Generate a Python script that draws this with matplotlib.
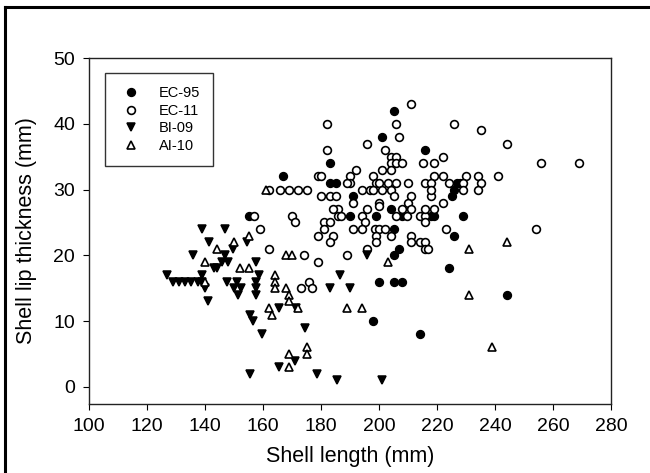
import matplotlib
matplotlib.use("Agg")
import matplotlib.pyplot as plt
from matplotlib.lines import Line2D

plt.rcParams['font.family'] = ['Liberation Sans', 'DejaVu Sans']

# EC-95 (filled circles)
ec95_x = [155, 167, 183, 183, 185, 205, 201, 216, 191, 190, 199, 204, 205, 207, 205, 208,
          218, 219, 226, 227, 228, 225, 229, 226, 224, 244, 214, 200, 205, 208, 198]
ec95_y = [26, 32, 34, 31, 31, 42, 38, 36, 29, 26, 26, 27, 24, 21, 20, 26,
          26, 26, 30, 31, 31, 29, 26, 23, 18, 14, 8, 16, 16, 16, 10]

# EC-11 (open circles)
ec11_x = [182, 182, 179, 180, 162, 166, 169, 172, 175, 180, 183, 185, 186, 186, 157, 170,
          171, 159, 181, 183, 179, 184, 181, 183, 162, 174, 179, 211, 206, 207, 196, 202,
          204, 206, 204, 206, 208, 204, 192, 201, 215, 219, 219, 190, 190, 198, 199, 200,
          203, 206, 210, 216, 218, 194, 197, 198, 201, 204, 205, 211, 210, 218, 218, 191,
          200, 200, 184, 187, 194, 196, 195, 206, 209.5, 208, 211, 214, 216, 216, 216, 191,
          194, 198.5, 200, 202, 199, 204, 199, 211, 211, 214, 216, 216, 196, 189, 226, 235,
          244, 222, 222, 230, 234, 241, 224, 229, 235, 229, 234, 222, 219, 223, 217, 256,
          269, 254, 189, 176, 177, 173]
ec11_y = [40, 36, 32, 32, 30, 30, 30, 30, 30, 29, 29, 29, 27, 26, 26, 26,
          25, 24, 25, 25, 23, 23, 24, 22, 21, 20, 19, 43, 40, 38, 37, 36,
          35, 35, 34, 34, 34, 33, 33, 33, 34, 34, 32, 32, 31, 32, 31, 31,
          31, 31, 31, 31, 31, 30, 30, 30, 30, 30, 29, 29, 28, 29, 30, 28,
          28, 27.5, 27, 26, 26, 27, 25, 26, 26, 27, 27, 26, 26, 25, 27, 24,
          24, 24, 24, 24, 23, 23, 22, 23, 22, 22, 22, 21, 21, 20, 40, 39,
          37, 35, 32, 32, 32, 32, 31, 31, 31, 30, 30, 28, 27, 24, 21, 34,
          34, 24, 31, 16, 15, 15]

# BI-09 (filled down triangles)
bi09_x = [127, 129, 131, 133, 135, 137.5, 139, 139, 140, 141, 139, 147, 141.5, 136, 149.5, 147,
          146, 148, 143, 144, 147.5, 151, 150, 152.5, 151.5, 154.5, 157.5, 158.5, 157.5, 157.5,
          157.5, 155.5, 156.5, 159.5, 155.5, 165.5, 171.5, 174.5, 165.5, 171, 178.5, 185.5, 201,
          186.5, 183, 190, 196]
bi09_y = [17, 16, 16, 16, 16, 16, 17, 16, 15, 13, 24, 24, 22, 20, 21, 20,
          19, 19, 18, 18, 16, 16, 15, 15, 14, 22, 19, 17, 16, 15,
          14, 11, 10, 8, 2, 12, 12, 9, 3, 4, 2, 1, 1,
          17, 15, 15, 20]

# AI-10 (open up triangles)
ai10_x = [140, 140, 144, 150, 155, 152, 155, 161, 164, 164, 164, 168, 169, 169, 162, 163,
          172, 189, 194, 168, 170, 169, 175, 175, 169, 203, 231, 244, 231, 239]
ai10_y = [19, 16, 21, 22, 23, 18, 18, 30, 17, 16, 15, 15, 14, 13, 12, 11,
          12, 12, 12, 20, 20, 5, 6, 5, 3, 19, 21, 22, 14, 6]

fig = plt.figure(figsize=(6.5, 4.73), dpi=100)
ax = fig.add_axes([89 / 650, 1 - 404 / 473, 522 / 650, 346 / 473])

ms = 5.6
ax.plot(ec95_x, ec95_y, 'o', ms=ms, mfc='black', mec='black', mew=1.1, label='EC-95')
ax.plot(ec11_x, ec11_y, 'o', ms=ms, mfc='white', mec='black', mew=1.2, label='EC-11')
ax.plot(bi09_x, bi09_y, 'v', ms=ms + 0.8, mfc='black', mec='black', mew=1.1, label='BI-09')
ax.plot(ai10_x, ai10_y, '^', ms=ms + 0.8, mfc='white', mec='black', mew=1.2, label='AI-10')

ax.set_xlim(100, 280)
ax.set_ylim(-2.6, 50)
ax.set_xticks(range(100, 281, 20))
ax.set_yticks(range(0, 51, 10))
ax.tick_params(direction='out', length=4, width=0.8, labelsize=14, pad=6,
               top=False, right=False)
for s in ax.spines.values():
    s.set_linewidth(1.0)
    s.set_color('#222222')

ax.set_xlabel('Shell length (mm)', fontsize=15.5, labelpad=8)
ax.set_ylabel('Shell lip thickness (mm)', fontsize=15.5, labelpad=12)

leg = ax.legend(loc='upper left', bbox_to_anchor=(16 / 522, 1 - 15 / 346), fontsize=10.5,
                frameon=True, fancybox=False, edgecolor='black', borderpad=0.9,
                handletextpad=1.0, labelspacing=0.25, borderaxespad=0, handlelength=1.8)
leg.get_frame().set_linewidth(1.0)

# outer frame (left and top edges visible)
fig.add_artist(Line2D([5 / 650, 5 / 650], [0, 1 - 7 / 473], transform=fig.transFigure,
                      color='black', lw=2.2))
fig.add_artist(Line2D([5 / 650, 1], [1 - 7 / 473, 1 - 7 / 473], transform=fig.transFigure,
                      color='black', lw=2.2))

fig.savefig('out.png', dpi=100)
